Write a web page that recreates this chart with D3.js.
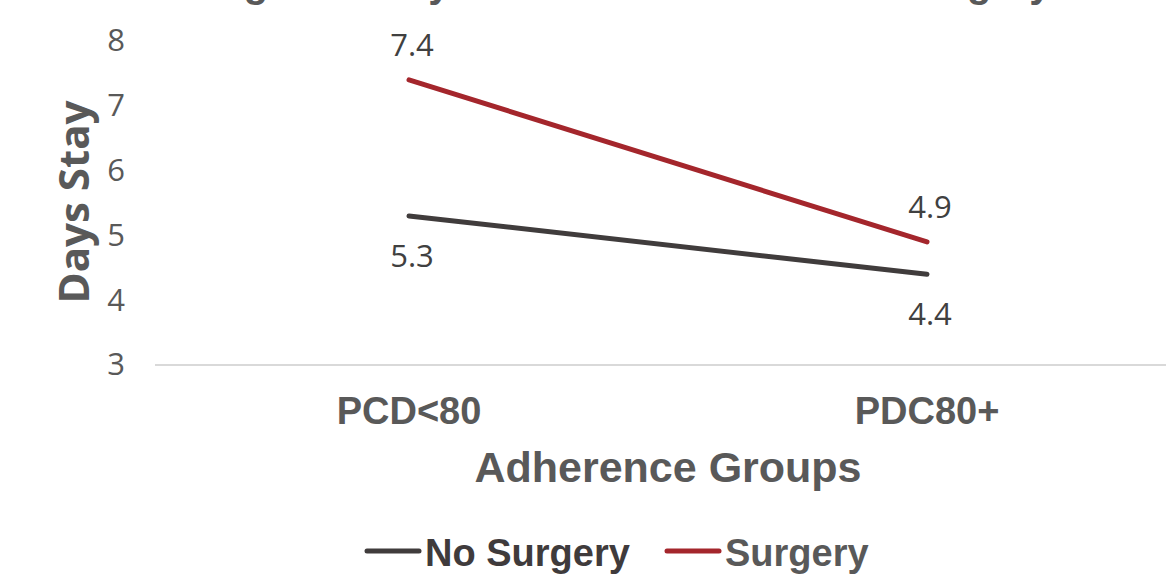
<!DOCTYPE html>
<html lang="en">
<head>
<meta charset="UTF-8">
<title>Days Stay by Adherence Groups</title>
<style>
  body { margin: 0; overflow: hidden; background: #fff; }
  svg { display: block; }
</style>
<script src="https://d3js.org/d3.v7.min.js"></script>
</head>
<body>
<svg id="chart" width="1166" height="576"></svg>
<script>
const categories = ["PCD<80", "PDC80+"];
const seriesNames = ["No Surgery", "Surgery"];
const noSurgery = [5.3, 4.4];
const surgery = [7.4, 4.9];
const yTicks = [3, 4, 5, 6, 7, 8];

const colors = { "No Surgery": "#403c3c", "Surgery": "#a4262c" };
const series = [
  { name: "No Surgery", values: noSurgery, labelPos: "below" },
  { name: "Surgery", values: surgery, labelPos: "above" }
];

const width = 1166, height = 576;
const svg = d3.select("#chart");

const x = d3.scaleBand().domain(categories).range([150, 1186]);
const y = d3.scaleLinear().domain([3, 8]).range([365, 41]);

// title (cut off at the top in the source)
svg.append("text")
  .attr("x", 612).attr("y", -3)
  .attr("text-anchor", "middle")
  .attr("font-family", "Liberation Sans, Arial, sans-serif")
  .attr("font-weight", "bold").attr("font-size", 40)
  .attr("fill", "#595959")
  .text("Length of Stay across Adherence and Surgery");

// y axis labels, no line
const yAxis = svg.append("g").attr("transform", "translate(125,0)")
  .call(d3.axisLeft(y).tickValues(yTicks).tickFormat(d3.format("d")).tickSize(0).tickPadding(0));
yAxis.select(".domain").remove();
yAxis.selectAll("text")
  .attr("font-family", "Open Sans, sans-serif")
  .attr("font-size", 31)
  .attr("fill", "#595959");

// x axis baseline + category labels
const xAxis = svg.append("g").attr("transform", `translate(0,${y(3)})`)
  .call(d3.axisBottom(x).tickSize(0).tickPadding(32));
xAxis.select(".domain").attr("d", `M155,0H${width}`).attr("stroke", "#d9d9d9").attr("stroke-width", 2);
xAxis.selectAll("text")
  .attr("font-family", "Liberation Sans, Arial, sans-serif")
  .attr("font-weight", "bold").attr("font-size", 38)
  .attr("fill", "#595959");

// axis titles
svg.append("text")
  .attr("transform", "translate(89,202) rotate(-90)")
  .attr("text-anchor", "middle")
  .attr("font-family", "Open Sans, sans-serif")
  .attr("font-weight", "bold").attr("font-size", 42)
  .attr("fill", "#595959")
  .text("Days Stay");

svg.append("text")
  .attr("x", 668).attr("y", 482)
  .attr("text-anchor", "middle")
  .attr("font-family", "Liberation Sans, Arial, sans-serif")
  .attr("font-weight", "bold").attr("font-size", 43)
  .attr("fill", "#595959")
  .text("Adherence Groups");

// lines
const line = d3.line()
  .x((d, i) => x(categories[i]) + x.bandwidth() / 2)
  .y(d => y(d));

series.forEach(s => {
  svg.append("path")
    .datum(s.values)
    .attr("d", line)
    .attr("fill", "none")
    .attr("stroke", colors[s.name])
    .attr("stroke-width", 5)
    .attr("stroke-linecap", "round");

  svg.selectAll(null)
    .data(s.values)
    .enter().append("text")
    .attr("x", (d, i) => x(categories[i]) + x.bandwidth() / 2 + 3)
    .attr("y", d => s.labelPos === "above" ? y(d) - 24 : y(d) + 51)
    .attr("text-anchor", "middle")
    .attr("font-family", "Open Sans, sans-serif")
    .attr("font-size", 31)
    .attr("fill", "#404040")
    .text(d => d.toFixed(1));
});

// legend
const legendItems = [
  { name: "No Surgery", x: 365, color: "#3f3b3c" },
  { name: "Surgery", x: 665, color: "#595959" }
];
legendItems.forEach(it => {
  svg.append("line")
    .attr("x1", it.x + 2).attr("x2", it.x + 54)
    .attr("y1", 551).attr("y2", 551)
    .attr("stroke", colors[it.name]).attr("stroke-width", 5)
    .attr("stroke-linecap", "round");
  svg.append("text")
    .attr("x", it.x + 60).attr("y", 566)
    .attr("font-family", "Liberation Sans, Arial, sans-serif")
    .attr("font-weight", "bold").attr("font-size", 38)
    .attr("fill", it.color)
    .text(it.name);
});
</script>
</body>
</html>
